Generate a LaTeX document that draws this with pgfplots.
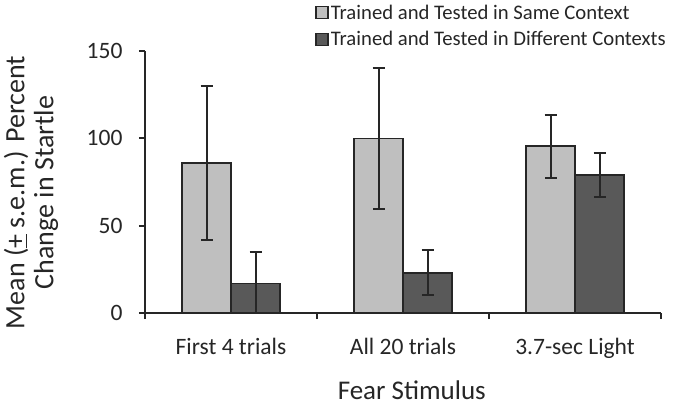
\documentclass[border=0pt]{standalone}
\usepackage{pgfplots}
\pgfplotsset{compat=1.18}
\usepackage{fontspec}
\setmainfont{Carlito}
\definecolor{lightbar}{HTML}{BFBFBF}
\definecolor{darkbar}{HTML}{595959}
\definecolor{edge}{HTML}{262626}
\begin{document}
\begin{tikzpicture}
\begin{axis}[
  at={(145pt,92pt)}, anchor=south west,
  scale only axis, width=516pt, height=262pt,
  ybar=0pt, bar width=49pt,
  xmin=-0.5, xmax=2.5, ymin=0, ymax=150,
  axis x line=bottom, axis y line=left,
  axis line style={-, line width=1.8pt, edge},
  every tick/.style={line width=1.8pt, edge},
  tick align=outside, major tick length=6pt,
  xtick={-0.5,0.5,1.5,2.5}, xticklabels={},
  extra x ticks={0,1,2},
  extra x tick labels={First 4 trials, All 20 trials, 3.7-sec Light},
  extra x tick style={major tick length=0pt, tick label style={yshift=-22pt}},
  ytick={0,50,100,150},
  /pgf/number format/assume math mode=true,
  tick label style={font=\fontsize{23.5}{28}\selectfont, text=black!85},
  yticklabel style={xshift=-13pt},
  ylabel={Mean (\underline{+} s.e.m.) Percent\\Change in Startle},
  ylabel style={at={(axis description cs:-0.221,0.46)}, anchor=center, align=center, font=\fontsize{28}{29}\selectfont, text=black!85},
  xlabel={Fear Stimulus},
  xlabel style={at={(axis description cs:0.517,-0.295)}, anchor=center, font=\fontsize{27}{33}\selectfont, text=black!85},
  legend style={at={(axis description cs:0.33,1.185)}, anchor=north west, draw=none, fill=none,
    font=\fontsize{20.7}{25}\selectfont, text=black!85, inner sep=0pt, row sep=7pt,
    /tikz/every even column/.append style={column sep=6pt}},
  legend cell align=left,
  legend image code/.code={\draw[#1, line width=1.4pt, draw=edge] (0pt,-6pt) rectangle (12pt,6pt);},
]
\addplot[fill=lightbar, draw=edge, line width=1.6pt,
  error bars/.cd, y dir=both, y explicit,
  error bar style={line width=2pt, draw=edge},
  error mark options={rotate=90, mark size=6pt, line width=2pt, draw=edge}]
  coordinates {(0,86) +- (0,44) (1,100) +- (0,40.5) (2,95.5) +- (0,18)};
\addplot[fill=darkbar, draw=edge, line width=1.6pt,
  error bars/.cd, y dir=both, y explicit,
  error bar style={line width=2pt, draw=edge},
  error mark options={rotate=90, mark size=6pt, line width=2pt, draw=edge}]
  coordinates {(0,16.8) +- (0,18) (1,23) +- (0,12.8) (2,79) +- (0,12.8)};
\legend{Trained and Tested in Same Context, Trained and Tested in Different Contexts}
\end{axis}
\pgfresetboundingbox
\path[use as bounding box] (0,0) rectangle (679pt,405pt);
\end{tikzpicture}
\end{document}
